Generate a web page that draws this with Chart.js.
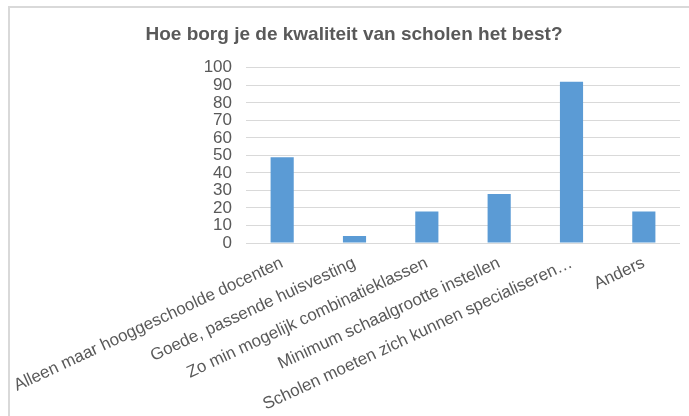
<!DOCTYPE html>
<html>
<head>
<meta charset="utf-8">
<script src="https://cdn.jsdelivr.net/npm/chart.js@4.4.0/dist/chart.umd.min.js"></script>
<style>
  html, body { margin: 0; padding: 0; background: #fff; overflow: hidden; }
  #frame { position: absolute; left: 8px; top: 6px; width: 1000px; height: 1000px;
           border-top: 2px solid #d9d9d9; border-left: 2px solid #d9d9d9; }
  #wrap { position: absolute; left: 0; top: 0; width: 689px; height: 416px; }
</style>
</head>
<body>
<div id="frame"></div>
<div id="wrap"><canvas id="chart" width="689" height="416"></canvas></div>
<script>
var categories = [
  "Alleen maar hooggeschoolde docenten",
  "Goede, passende huisvesting",
  "Zo min mogelijk combinatieklassen",
  "Minimum schaalgrootte instellen",
  "Scholen moeten zich kunnen specialiseren…",
  "Anders"
];
var values = [49, 4, 18, 28, 92, 18];
var yTicks = [0, 10, 20, 30, 40, 50, 60, 70, 80, 90, 100];

var textColor = '#595959';
var font = '"Liberation Sans", Arial, sans-serif';

var ctx = document.getElementById('chart');

new Chart(ctx, {
  type: 'bar',
  data: {
    labels: categories,
    datasets: [
      {
        label: 'Aantal',
        data: values,
        backgroundColor: '#5b9bd5',
        borderWidth: 0,
        categoryPercentage: 1,
        barPercentage: 0.32
      }
    ]
  },
  options: {
    responsive: false,
    animation: false,
    layout: {
      // left padding also centres the title over the framed area
      padding: { left: 28, right: 9, top: 0, bottom: 0 }
    },
    plugins: {
      legend: { display: false },
      tooltip: { enabled: false },
      title: {
        display: true,
        text: 'Hoe borg je de kwaliteit van scholen het best?',
        color: textColor,
        font: { family: font, size: 19, weight: 'bold' },
        padding: { top: 23, bottom: 22 }
      }
    },
    scales: {
      x: {
        grid: { display: false, drawTicks: false },
        border: { display: false },
        ticks: {
          color: textColor,
          font: { family: font, size: 17 },
          minRotation: 25,
          maxRotation: 25,
          autoSkip: false,
          padding: 10
        },
        afterFit: function(scale) {
          scale.height = 416 - 243;
          scale.paddingLeft = 0;
          scale.paddingRight = 0;
        }
      },
      y: {
        min: 0,
        max: 100,
        afterBuildTicks: function(scale) {
          scale.ticks = yTicks.map(function(v) { return { value: v }; });
        },
        grid: { color: '#d9d9d9', lineWidth: 1, drawTicks: false },
        border: { display: false },
        ticks: {
          color: textColor,
          font: { family: font, size: 17 },
          autoSkip: false,
          padding: 14
        },
        afterFit: function(scale) {
          scale.width = 246 - 28;
        }
      }
    }
  }
});
</script>
</body>
</html>
